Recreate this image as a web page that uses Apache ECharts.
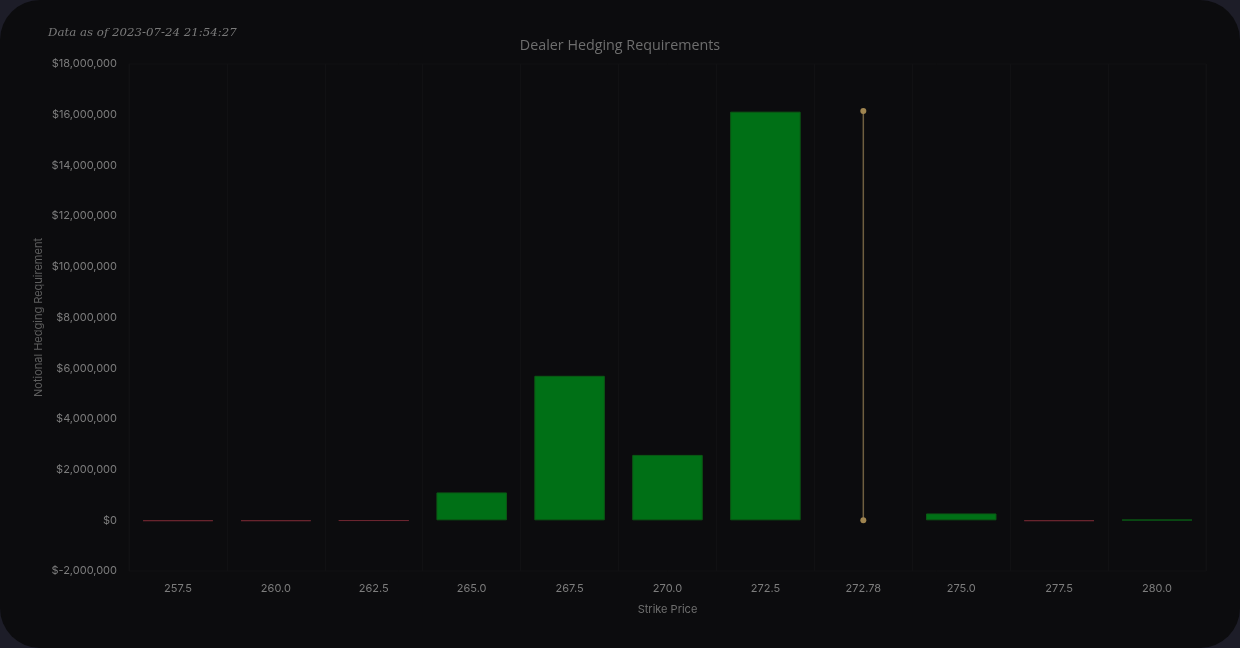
<!DOCTYPE html>
<html>
<head>
<meta charset="utf-8">
<script src="https://cdn.jsdelivr.net/npm/echarts@6/dist/echarts.min.js"></script>
<style>
html,body{margin:0;padding:0;width:1240px;height:648px;background:#1d1d28;overflow:hidden;}
#card{position:absolute;left:0;top:0;width:1240px;height:648px;background:#0c0c0e;border-radius:40px;}
#chart{position:absolute;left:0;top:0;width:1240px;height:648px;}
</style>
</head>
<body>
<div id="card"></div>
<div id="chart"></div>
<script>
const categories = ['257.5','260.0','262.5','265.0','267.5','270.0','272.5','272.78','275.0','277.5','280.0'];
const hedgeValues = [-30000, -30000, -20000, 1100000, 5700000, 2580000, 16120000, null, 270000, -30000, 20000];
const spotCategory = '272.78';
const spotRange = [0, 16150000];
const yTicks = { min: -2000000, max: 18000000, interval: 2000000 };

const chart = echarts.init(document.getElementById('chart'), null, {renderer:'canvas'});
const fmt = v => (v < 0 ? '$-' : '$') + Math.abs(v).toLocaleString('en-US');

chart.setOption({
  backgroundColor: 'transparent',
  animation: false,
  title: [
    { text: 'Data as of 2023-07-24 21:54:27', left: 48, top: 27, padding: 0,
      textStyle: { fontFamily: 'DejaVu Serif', fontStyle: 'italic', fontWeight: 'normal', fontSize: 11.8, color: '#7a7a7a' } },
    { text: 'Dealer Hedging Requirements', left: 'center', top: 39, padding: 0,
      textStyle: { fontFamily: 'Open Sans', fontWeight: 'normal', fontSize: 14.3, color: '#6e6e6e' } }
  ],
  grid: { left: 129, right: 34, top: 64, bottom: 77, show: true, borderColor: '#101012', borderWidth: 1 },
  xAxis: {
    type: 'category', data: categories,
    name: 'Strike Price', nameLocation: 'middle', nameGap: 33, nameMoveOverlap: false,
    nameTextStyle: { color: '#6f6f6f', fontFamily: 'Inter', fontSize: 11 },
    axisLine: { show: false }, axisTick: { show: false },
    axisLabel: { color: '#7d7d7d', fontFamily: 'Inter', fontSize: 11, margin: 12 },
    splitLine: { show: true, lineStyle: { color: '#111113', width: 1 } }
  },
  yAxis: {
    type: 'value', min: yTicks.min, max: yTicks.max, interval: yTicks.interval,
    name: 'Notional Hedging Requirement', nameLocation: 'middle', nameGap: 85, nameMoveOverlap: false,
    nameTextStyle: { color: '#5f5f5f', fontFamily: 'Inter', fontSize: 11 },
    axisLine: { show: false }, axisTick: { show: false },
    axisLabel: { color: '#7d7d7d', fontFamily: 'Inter', fontSize: 11, margin: 12, formatter: fmt },
    splitLine: { show: false }
  },
  series: [
    {
      type: 'bar', barWidth: '72%',
      data: hedgeValues.map(v => v === null ? null : {
        value: v,
        itemStyle: v >= 0
          ? { color: '#007016', borderColor: '#0b5a15', borderWidth: 1 }
          : { color: '#6c2630', borderColor: '#6c2630', borderWidth: 1 }
      })
    },
    {
      type: 'line',
      data: [[spotCategory, spotRange[0]], [spotCategory, spotRange[1]]],
      lineStyle: { color: '#6f5f40', width: 1.5 },
      symbol: 'circle', symbolSize: 6,
      itemStyle: { color: '#a08550' },
      z: 5
    }
  ]
});
</script>
</body>
</html>
